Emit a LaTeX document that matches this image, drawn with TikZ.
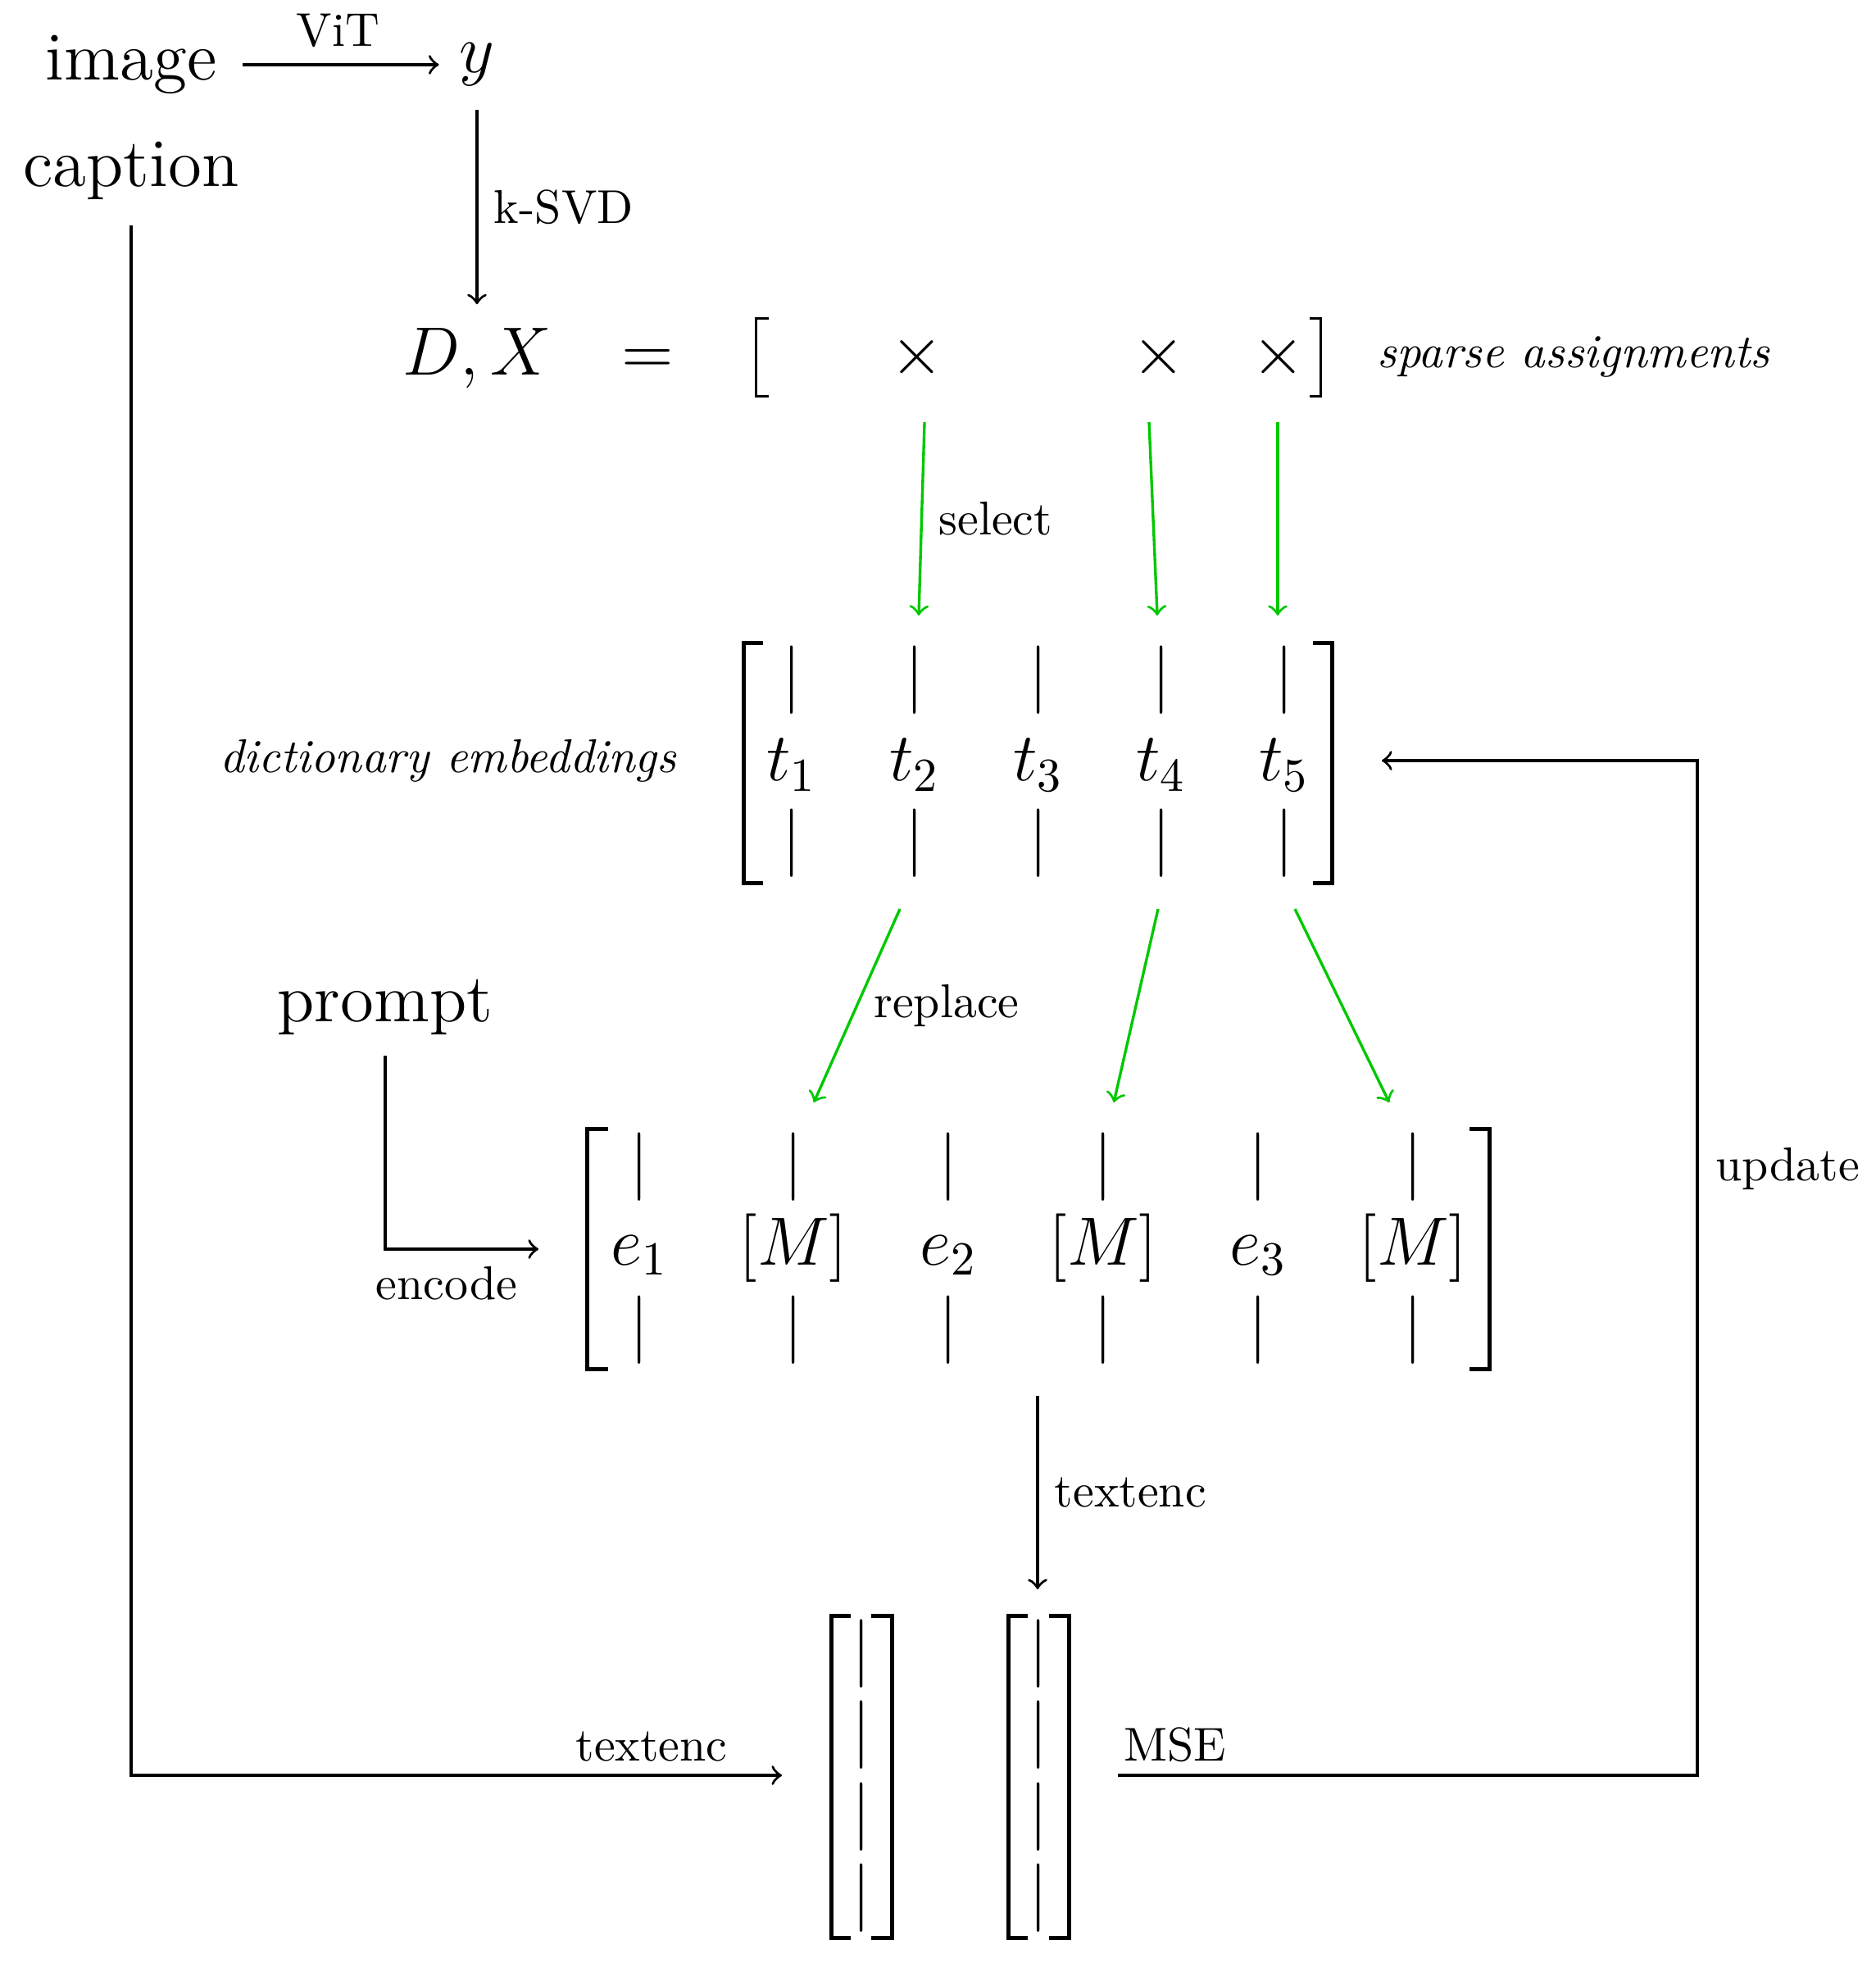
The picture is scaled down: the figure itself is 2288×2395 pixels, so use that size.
\documentclass[tikz,border=0pt]{standalone}
\usetikzlibrary{arrows.meta}
\definecolor{selgreen}{RGB}{0,200,0}
\begin{document}
\begin{tikzpicture}[x=0.17276pt,y=-0.17276pt,
  bigtxt/.style={font=\Large},
  lbl/.style={font=\normalsize},
  vbar/.style={font=\Large, inner sep=0pt},
  conn/.style={draw=black, line width=0.58pt, -to},
  gconn/.style={draw=selgreen, line width=0.58pt, -to},
  brk/.style={line width=0.9pt, line cap=butt, line join=miter},
  thinbrk/.style={line width=0.6pt, line cap=butt, line join=miter}]
\useasboundingbox (0,0) rectangle (2288,2395);

% top part
\node[bigtxt] (image) at (160,79) {image};
\node[bigtxt] (y) at (582,79) {$y$};
\node[bigtxt] (caption) at (160,208) {caption};
\node[bigtxt] (DX) at (582,437) {$D,X$};
\draw[conn, shorten <=2pt, shorten >=0.8pt] (image) -- node[lbl, above] (vit) {ViT} (y);
\draw[conn, shorten <=1.5pt, shorten >=1.5pt] (y) -- node[lbl, right] (ksvd) {k-SVD} (DX);

% sparse assignment row
\node[bigtxt, anchor=base] (eq) at (790,457) {$=$};
\node[bigtxt, anchor=base] (xa) at (1119,457) {$\times$};
\node[bigtxt, anchor=base] (xb) at (1414,457) {$\times$};
\node[bigtxt, anchor=base] (xc) at (1560,457) {$\times$};
\draw[thinbrk] (938,388.7) -- (922.7,388.7) -- (922.7,483.3) -- (938,483.3);
\draw[thinbrk] (1598,388.7) -- (1611.3,388.7) -- (1611.3,483.3) -- (1598,483.3);
\node[lbl, anchor=base west] (sparse) at (1660,449) {\textit{sparse assignments}};

% dictionary matrix
\foreach \x [count=\i] in {966,1116,1267,1417,1567} {
  \node[vbar] (ttop\i) at (\x,830) {$|$};
  \node[vbar] (tbot\i) at (\x,1029) {$|$};
  \node[bigtxt, anchor=base] (t\i) at (\x,953) {$t_{\i}$};
}
\draw[brk] (931,784.5) -- (907.5,784.5) -- (907.5,1077.5) -- (931,1077.5);
\draw[brk] (1602,784.5) -- (1625.5,784.5) -- (1625.5,1077.5) -- (1602,1077.5);
\node[lbl, anchor=base] (dict) at (547,943) {\textit{dictionary embeddings}};

% select arrows
\coordinate (s1) at (1128,515);  \coordinate (s1e) at (1121,751);
\coordinate (s2) at (1402,515);  \coordinate (s2e) at (1412,751);
\coordinate (s3) at (1559,515);  \coordinate (s3e) at (1559,751);
\draw[gconn] (s1) -- node[lbl, right, text=black] (sel) {select} (s1e);
\draw[gconn] (s2) -- (s2e);
\draw[gconn] (s3) -- (s3e);

% embedding matrix
\foreach \x [count=\i] in {780,968,1157,1346,1535,1724} {
  \node[vbar] (etop\i) at (\x,1424) {$|$};
  \node[vbar] (ebot\i) at (\x,1622.5) {$|$};
}
\node[bigtxt, anchor=base] (e1) at (780,1543) {$e_1$};
\node[bigtxt, anchor=base] (m1) at (968,1543) {$[M]$};
\node[bigtxt, anchor=base] (e2) at (1157,1543) {$e_2$};
\node[bigtxt, anchor=base] (m2) at (1346,1543) {$[M]$};
\node[bigtxt, anchor=base] (e3) at (1535,1543) {$e_3$};
\node[bigtxt, anchor=base] (m3) at (1724,1543) {$[M]$};
\draw[brk] (742,1377.5) -- (716.5,1377.5) -- (716.5,1670.5) -- (742,1670.5);
\draw[brk] (1793,1377.5) -- (1817.5,1377.5) -- (1817.5,1670.5) -- (1793,1670.5);

% replace arrows
\coordinate (r1) at (1098,1109);  \coordinate (r1e) at (993,1345);
\coordinate (r2) at (1413,1109);  \coordinate (r2e) at (1359,1345);
\coordinate (r3) at (1580,1109);  \coordinate (r3e) at (1695,1345);
\draw[gconn] (r1) -- node[lbl, right, text=black] (rep) {replace} (r1e);
\draw[gconn] (r2) -- (r2e);
\draw[gconn] (r3) -- (r3e);

% prompt
\node[bigtxt] (prompt) at (470,1229) {prompt};
\coordinate (encend) at (657,1524);
\draw[conn, shorten <=0.8pt] (prompt.south) |- (encend);
\node[lbl, anchor=base] (enc) at (545,1585) {encode};

% text encoder
\coordinate (te1s) at (1266,1703);  \coordinate (te1e) at (1266,1939);
\draw[conn] (te1s) -- node[lbl, right] (tenc1) {textenc} (te1e);

% output vectors
\foreach \y [count=\i] in {2017.5,2117,2217,2316} {
  \node[vbar] (va\i) at (1051,\y) {$|$};
  \node[vbar] (vb\i) at (1267,\y) {$|$};
}
\draw[brk] (1038,1971.5) -- (1014.5,1971.5) -- (1014.5,2364.5) -- (1038,2364.5);
\draw[brk] (1063,1971.5) -- (1088.5,1971.5) -- (1088.5,2364.5) -- (1063,2364.5);
\draw[brk] (1254,1971.5) -- (1230.5,1971.5) -- (1230.5,2364.5) -- (1254,2364.5);
\draw[brk] (1280,1971.5) -- (1304.5,1971.5) -- (1304.5,2364.5) -- (1280,2364.5);

% caption path
\coordinate (capend) at (954,2166);
\draw[conn, shorten <=2pt] (caption.south) |- (capend);
\node[lbl, anchor=base] (tenc2) at (795,2148) {textenc};

% MSE / update loop
\coordinate (mse) at (1364,2166);
\coordinate (cornerA) at (2071,2166);
\coordinate (updend) at (1686,928);
\draw[conn] (mse) -- (cornerA) |- (updend);
\node[lbl, anchor=base] (msel) at (1434,2148) {MSE};
\node[lbl, anchor=base west] (upd) at (2073,1440) {update};
\end{tikzpicture}
\end{document}
